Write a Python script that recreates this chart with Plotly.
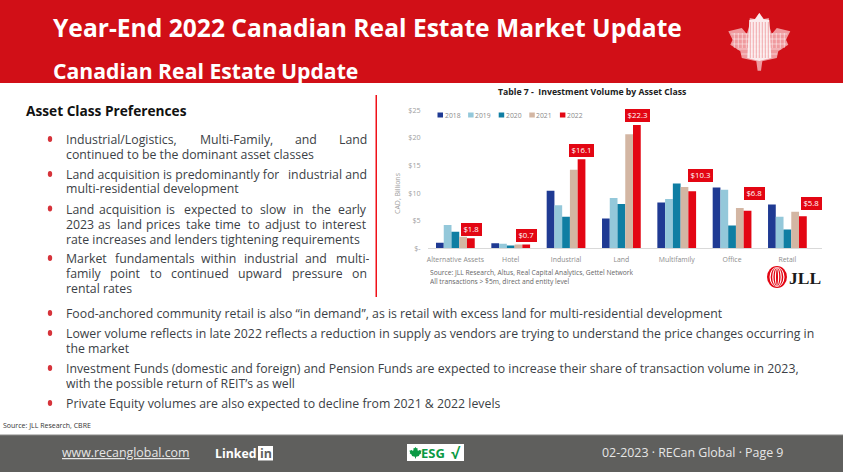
import plotly.graph_objects as go

W, H = 843, 472

asset_classes = ["Alternative Assets", "Hotel", "Industrial", "Land", "Multifamily", "Office", "Retail"]
years = ["2018", "2019", "2020", "2021", "2022"]
vol_2018 = [1.0, 0.9, 10.4, 5.4, 8.3, 11.0, 7.9]
vol_2019 = [4.2, 0.8, 7.8, 9.1, 8.9, 10.6, 5.7]
vol_2020 = [3.0, 0.5, 5.7, 8.0, 11.7, 4.1, 3.4]
vol_2021 = [2.1, 0.7, 14.2, 20.6, 11.1, 7.3, 6.6]
vol_2022 = [1.8, 0.7, 16.1, 22.3, 10.3, 6.8, 5.8]
y_ticks = [0, 5, 10, 15, 20, 25]
y_labels = ["$-", "$5", "$10", "$15", "$20", "$25"]
colors = ["#1f3a93", "#94c8da", "#0f7ea3", "#d3b6a3", "#e30613"]
label_dx = [0, 0, 0, 0, 8, 7, 8]
label_dy = [9, 9, 9, 9, 16, 17, 13]

RED = "#d10f17"
BODY = "#3c3f46"
FONT = "Open Sans"


def X(px):
    return px / W


def Y(px):
    return 1 - px / H


shapes = []
notes = []


def Text(x, y, text, size, color=BODY, anchor="left", bold=False, font=FONT, height=None):
    notes.append(dict(
        x=X(x), y=Y(y), xref="paper", yref="paper", showarrow=False,
        text=f"<b>{text}</b>" if bold else text,
        xanchor=anchor, yanchor="middle", borderpad=0, borderwidth=0, height=height,
        font=dict(family=font, size=size, color=color),
    ))


def Rect(x0, y0, x1, y1, color):
    shapes.append(dict(
        type="rect", xref="paper", yref="paper", layer="below",
        x0=X(x0), x1=X(x1), y0=Y(y0), y1=Y(y1),
        fillcolor=color, line_width=0,
    ))


def Path(points, color, width=0, line=None, close=True):
    path = "M" + "L".join(f"{X(a):.5f},{Y(b):.5f}" for a, b in points) + ("Z" if close else "")
    shapes.append(dict(
        type="path", xref="paper", yref="paper", path=path,
        fillcolor=color if close else None,
        line=dict(width=width, color=line or color),
    ))


def Ellipse(cx, cy, rx, ry, color):
    shapes.append(dict(
        type="circle", xref="paper", yref="paper",
        x0=X(cx - rx), x1=X(cx + rx), y0=Y(cy - ry), y1=Y(cy + ry),
        fillcolor=color, line_width=0,
    ))


# half outline of the leaf, mirrored round the centre
LEAF = [(0, 0), (4.5, 6), (9.5, 5), (10, 13), (12.5, 21), (17.5, 15), (31, 18.3), (26.7, 26.7),
        (29, 31.7), (19, 38.3), (17.5, 45), (3, 48.3), (1.7, 57.7)]


def Leaf(cx, top, scale, color):
    right = [(cx + a * scale, top + b * scale) for a, b in LEAF]
    left = [(cx - a * scale, top + b * scale) for a, b in reversed(LEAF)]
    Path(right + left, color)


# header, footer
Rect(0, 0, W, 83, RED)
Rect(0, 435, W, H, "#5f5f5d")
Rect(0, 434.5, W, 435.5, "#8a8a88")
Rect(375.5, 95, 377, 297, "#f01018")

Text(53, 28, "Year-End 2022 Canadian Real Estate Market Update", 24.6, "white", bold=True)
Text(53, 70, "Canadian Real Estate Update", 21.2, "white", bold=True)

LEAF_X = 759.3
Leaf(LEAF_X, 13, 1, "#ef9a9e")
Path([(LEAF_X - 10, 20), (LEAF_X - 4, 19), (LEAF_X, 13), (LEAF_X + 4, 19), (LEAF_X + 10, 20),
      (LEAF_X + 12, 58), (LEAF_X, 61), (LEAF_X - 12, 58)], "#fbeced")
# building grid on the leaf
for gy, half in [(34, 28), (39, 27), (44, 27), (49, 22), (54, 18)]:
    Path([(LEAF_X - half, gy), (LEAF_X + half, gy)], None, 0.5, "white", close=False)
for dx in [-25, -21, -17, -13, 13, 17, 21, 25]:
    Path([(LEAF_X + dx, 33), (LEAF_X + dx, 48)], None, 0.5, "white", close=False)
for dx in [-9, -6, -3, 0, 3, 6, 9]:
    Path([(LEAF_X + dx, 22), (LEAF_X + dx, 58)], None, 0.5, "#e8656b", close=False)

# left column
Text(26, 110.5, "Asset Class Preferences", 13.7, "#111111", bold=True)
BODY_SIZE = 12.3
left_lines = [
    (139, [(66, "Industrial/Logistics,"), (199.7, "Multi-Family,"), (294.6, "and"), (339, "Land")]),
    (154, [(66, "continued to be the dominant asset classes")]),
    (174, [(66, "Land acquisition is predominantly for"), (288, "industrial and")]),
    (189, [(66, "multi-residential development")]),
    (209, [(66, "Land"), (98.9, "acquisition"), (165.9, "is"), (184.2, "expected"), (241, "to"),
           (260.2, "slow"), (292.6, "in"), (311.8, "the"), (337.6, "early")]),
    (224, [(66, "2023"), (97.5, "as"), (116.8, "land"), (145.5, "prices"), (185.5, "take"), (215.1, "time"),
           (247.6, "to"), (265, "adjust"), (305, "to"), (322.4, "interest")]),
    (239, [(66, "rate increases and lenders tightening requirements")]),
    (258.5, [(66, "Market"), (115.4, "fundamentals"), (200.5, "within"), (244.3, "industrial"),
             (305, "and"), (335.6, "multi-")]),
    (273.5, [(66, "family"), (109.8, "point"), (150, "to"), (171.1, "continued"), (237.5, "upward"),
             (291.7, "pressure"), (351.5, "on")]),
    (288.5, [(66, "rental rates")]),
]
for line_y, chunks in left_lines:
    for chunk_x, chunk in chunks:
        Text(chunk_x, line_y, chunk, BODY_SIZE, height=15)

# lower block
lower_lines = [
    (313, "Food-anchored community retail is also “in demand”, as is retail with excess land for multi-residential development"),
    (333, "Lower volume reflects in late 2022 reflects a reduction in supply as vendors are trying to understand the price changes occurring in"),
    (348, "the market"),
    (368, "Investment Funds (domestic and foreign) and Pension Funds are expected to increase their share of transaction volume in 2023,"),
    (383, "with the possible return of REIT’s as well"),
    (403, "Private Equity volumes are also expected to decline from 2021 & 2022 levels"),
]
for line_y, line in lower_lines:
    Text(66, line_y, line, BODY_SIZE, height=15)

for bullet_y in [139, 174, 208.5, 258, 313, 333, 368, 403]:
    Ellipse(50, bullet_y, 2.2, 3, "#d6333a")

Text(3, 425, "Source: JLL Research, CBRE", 7, "#333333")

# chart texts
Text(592, 92.5, "Table 7 -  Investment Volume by Asset Class", 8.7, "#222222", anchor="center", bold=True)
Text(430, 272, "Source: JLL Research, Altus, Real Capital Analytics, Gettel Network", 6.7, "#666666", height=9)
Text(430, 281, "All transactions &gt; $5m, direct and entity level", 6.7, "#666666", height=9)

# chart legend
for i, year in enumerate(years):
    lx = 437.5 + i * 30.6
    Rect(lx, 112.5, lx + 5.5, 117.5, colors[i])
    Text(lx + 7, 115, year, 6.8, "#8a8a8a")

# JLL logo
Ellipse(777, 277, 10, 11, "#e30613")
for rx, ry in [(7.5, 10), (4.8, 9.5), (2.2, 9)]:
    Ellipse(777, 277, rx, ry, "white")
    Ellipse(777, 277, rx - 1.2, ry - 0.4, "#e30613")
Text(789, 277.5, "JLL", 17.5, "#1a1a1a", bold=True, font="Liberation Serif")

# footer bits
Text(62, 452, "<u>www.recanglobal.com</u>", 12.4, "#e6e6e6")
Text(215, 453, "Linked", 12.3, "white", bold=True)
Rect(258, 446, 273, 460.5, "white")
Text(265.5, 453.5, "in", 12.5, "#5f5f5d", anchor="center", bold=True)
Rect(407, 444, 464, 461, "white")
Leaf(415.5, 447, 0.2, "#0a9a44")
Text(421, 452.5, "ESG", 13, "#0a9a44", bold=True)
Text(451, 452.5, "√", 15, "#0a9a44", bold=True)
Text(602, 452, "02-2023 · RECan Global · Page 9", 12.4, "#e6e6e6")

fig = go.Figure()
series = [vol_2018, vol_2019, vol_2020, vol_2021, vol_2022]
for year, values, color in zip(years, series, colors):
    fig.add_trace(go.Bar(name=year, x=asset_classes, y=values, marker_color=color, marker_line_width=0))

# value flags over the 2022 bars
for name, value, dx, dy in zip(asset_classes, vol_2022, label_dx, label_dy):
    flag = f"${value}"
    notes.append(dict(
        x=name, y=value, xref="x", yref="y", showarrow=False,
        text=flag, width=4.2 * len(flag) + 4, height=12.7, bgcolor="#e30613",
        xshift=15.8 + dx, yshift=dy, borderpad=0, borderwidth=0,
        font=dict(family=FONT, size=7.8, color="white"),
    ))

# axis title is a plain text, automargin would squeeze the whole page
notes.append(dict(
    x=X(397), y=Y(193), xref="paper", yref="paper", showarrow=False, textangle=-90,
    text="CAD, Billions", font=dict(family=FONT, size=7, color="#a0a0a0"),
))

fig.update_layout(
    width=W,
    height=H,
    autosize=False,
    margin=dict(l=0, r=0, t=0, b=0),
    paper_bgcolor="white",
    plot_bgcolor="rgba(0,0,0,0)",
    barmode="group",
    bargap=0.3,
    bargroupgap=0,
    showlegend=False,
    shapes=shapes,
    annotations=notes,
    font=dict(family=FONT),
    xaxis=dict(
        domain=[X(427.7), X(821.7)],
        anchor="y",
        automargin=False,
        showline=True,
        linecolor="#d9d9d9",
        linewidth=1,
        ticks="",
        ticklabelstandoff=4,
        tickfont=dict(size=6.9, color="#8c8c8c"),
    ),
    yaxis=dict(
        domain=[Y(248.3), Y(110)],
        anchor="x",
        automargin=False,
        range=[0, 25],
        tickvals=y_ticks,
        ticktext=y_labels,
        showgrid=False,
        zeroline=False,
        ticks="",
        ticklabelstandoff=6,
        tickfont=dict(size=7.2, color="#a0a0a0"),
    ),
)

fig.write_html("out.html", config={"displayModeBar": False}, post_script="document.body.style.margin='0';")
